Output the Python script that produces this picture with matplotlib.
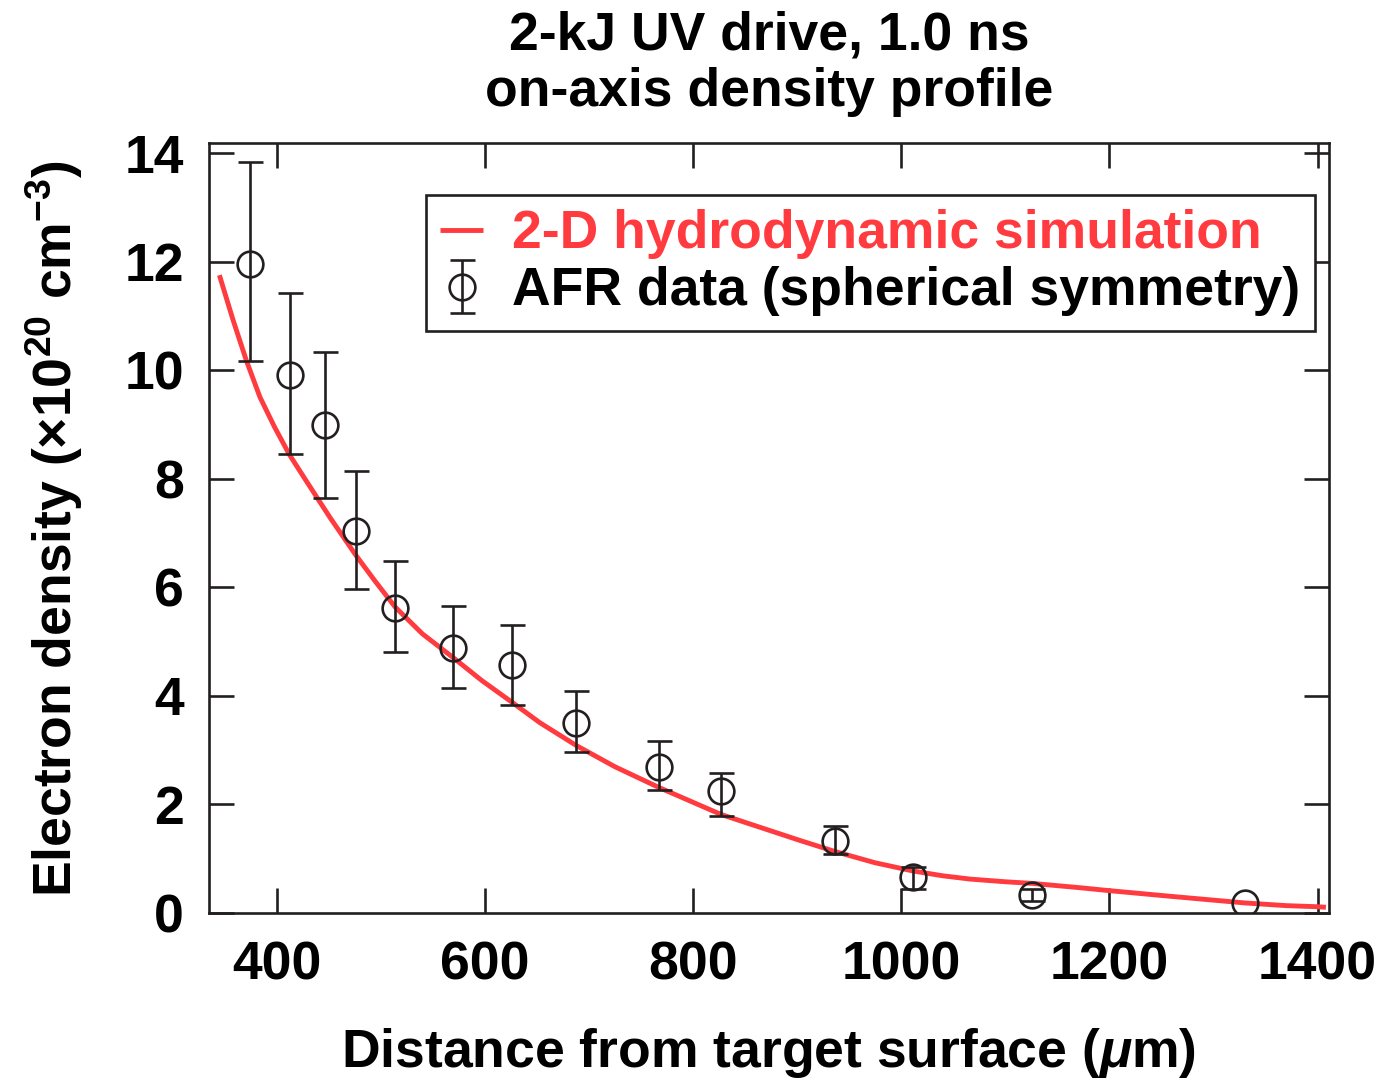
import matplotlib
matplotlib.use("Agg")
import matplotlib.pyplot as plt

# Measured electron density (units of 1e20 cm^-3) vs distance from target (um)
dist = [374, 413, 446, 476, 514, 569, 626, 688, 767, 827, 936, 1011, 1126, 1330]
dens = [11.95, 9.91, 8.99, 7.03, 5.62, 4.88, 4.56, 3.49, 2.68, 2.24, 1.33, 0.65, 0.33, 0.17]
err_hi = [1.89, 1.52, 1.35, 1.11, 0.86, 0.77, 0.75, 0.59, 0.48, 0.34, 0.26, 0.19, 0.11, 0.0]
err_lo = [1.78, 1.46, 1.35, 1.06, 0.82, 0.74, 0.74, 0.52, 0.41, 0.45, 0.25, 0.21, 0.11, 0.0]
has_err = [True] * 13 + [False]

# 2-D hydrodynamic simulation profile
sim_x = [345, 358, 371, 384, 398, 412, 427, 451, 476, 495, 514, 540, 569, 597, 626,
         653, 688, 725, 767, 827, 865, 903, 936, 975, 1011, 1040, 1066, 1100, 1126,
         1172, 1198, 1260, 1330, 1370, 1400, 1408]
sim_y = [11.75, 10.93, 10.17, 9.50, 8.95, 8.45, 8.00, 7.29, 6.59, 6.10, 5.63, 5.14,
         4.71, 4.28, 3.88, 3.50, 3.08, 2.69, 2.31, 1.81, 1.57, 1.33, 1.13, 0.92,
         0.77, 0.68, 0.62, 0.57, 0.54, 0.46, 0.41, 0.30, 0.18, 0.13, 0.11, 0.10]

xticks = [400, 600, 800, 1000, 1200, 1400]
yticks = [0, 2, 4, 6, 8, 10, 12, 14]

RED = "#FF3B3F"
INK = "#231F20"

plt.rcParams["font.family"] = ["Liberation Sans", "DejaVu Sans"]
plt.rcParams["font.weight"] = "bold"
plt.rcParams["mathtext.fontset"] = "custom"
plt.rcParams["mathtext.rm"] = "Liberation Sans"
plt.rcParams["mathtext.bf"] = "Liberation Sans:bold"
plt.rcParams["mathtext.it"] = "Liberation Sans:italic:bold"

FS = 38.5
LW = 1.9

fig = plt.figure(figsize=(13.8, 10.8), dpi=100)
W, H = 1380, 1080
L, R, T, B = 209, 1329, 143.3, 912.7
ax = fig.add_axes([L / W, 1 - B / H, (R - L) / W, (B - T) / H])

sim_line, = ax.plot(sim_x, sim_y, color=RED, lw=3.5, zorder=2,
                    label="2-D hydrodynamic simulation", solid_capstyle="butt",
                    solid_joinstyle="round")
eb = ax.errorbar(dist, dens, yerr=[err_lo, err_hi], errorevery=has_err,
                 fmt="o", ms=18.5, mfc="none", mec=INK, mew=LW,
                 ecolor=INK, elinewidth=LW, capsize=9, capthick=LW,
                 zorder=3, label="AFR data (spherical symmetry)")

ax.set_xlim(335, 1411)
ax.set_ylim(0, 14.18)
ax.set_xticks(xticks)
ax.set_yticks(yticks)
ax.tick_params(which="major", direction="in", length=18, width=LW,
               color=INK, top=True, right=True, labelsize=FS, pad=18)
ax.tick_params(axis="x", pad=20)
for lab in ax.get_xticklabels() + ax.get_yticklabels():
    lab.set_fontweight("bold")
for sp in ax.spines.values():
    sp.set_linewidth(LW)
    sp.set_color(INK)

ax.set_xlabel(r"Distance from target surface $(\mu\mathbf{m})$",
              fontsize=FS, fontweight="bold")
ax.xaxis.label.set_va("baseline")
ax.xaxis.set_label_coords(0.5, (B - 1067) / (B - T))

ax.set_ylabel(r"Electron density $(\times\mathbf{10}^{\mathbf{20}}$ cm$^{\mathbf{-3}})$",
              fontsize=FS, fontweight="bold")
ax.yaxis.label.set_rotation_mode("anchor")
ax.yaxis.label.set_va("baseline")
ax.yaxis.label.set_ha("center")
ax.yaxis.set_label_coords((72 - L) / (R - L), 0.5)

cx = (L + R) / 2 / W
fig.text(cx, 1 - 49 / H, "2-kJ UV drive, 1.0 ns", ha="center", va="baseline",
         fontsize=FS, fontweight="bold")
fig.text(cx, 1 - 106 / H, "on-axis density profile", ha="center", va="baseline",
         fontsize=FS, fontweight="bold")

leg = ax.legend(handles=[sim_line, eb], loc="upper right",
                bbox_to_anchor=((1315 - L) / (R - L), (B - 195) / (B - T)),
                fontsize=FS, frameon=True, fancybox=False, framealpha=1,
                edgecolor=INK, handlelength=0.8, handletextpad=0.55,
                borderpad=0.27, labelspacing=0.13, borderaxespad=0,
                numpoints=1)
leg.get_frame().set_linewidth(LW)
texts = leg.get_texts()
texts[0].set_color(RED)
texts[1].set_color("black")

fig.savefig("out.png", dpi=100)
